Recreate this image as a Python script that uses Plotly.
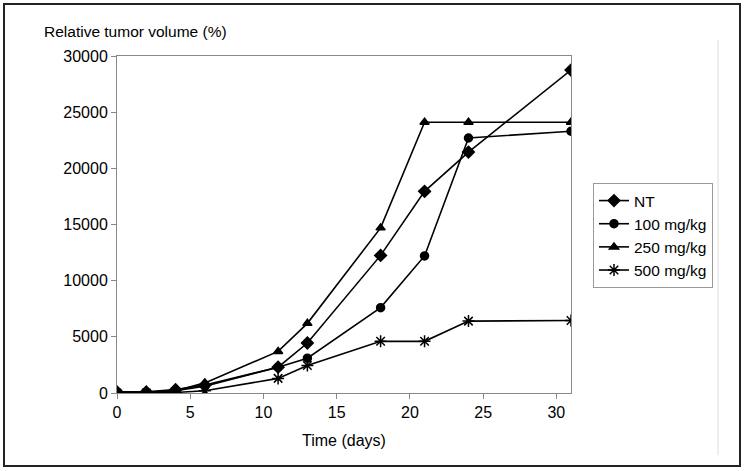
import plotly.graph_objects as go

days = [0, 2, 4, 6, 11, 13, 18, 21, 24, 31]
nt = [100, 100, 300, 700, 2300, 4450, 12250, 17950, 21450, 28750]
mg100 = [0, 50, 200, 600, 2300, 3100, 7600, 12200, 22700, 23300]
mg250 = [0, 50, 200, 900, 3700, 6200, 14700, 24100, 24100, 24100]
mg500 = [0, 0, 50, 200, 1300, 2450, 4600, 4600, 6400, 6450]

x_ticks = [0, 5, 10, 15, 20, 25, 30]
y_ticks = [0, 5000, 10000, 15000, 20000, 25000, 30000]
y_ticktext = ["0", "5000", "10000", "15000", "20000", "25000", "30000"]

series = [
    ("NT", nt, "diamond", 9),
    ("100 mg/kg", mg100, "circle", 8),
    ("250 mg/kg", mg250, "triangle-up", 8),
    ("500 mg/kg", mg500, "asterisk-open", 10),
]

FONT = "Liberation Sans, Arial, sans-serif"
fig = go.Figure()
for name, vals, sym, sz in series:
    fig.add_trace(go.Scatter(
        x=days, y=vals, name=name, mode="lines+markers",
        line=dict(color="black", width=1.6),
        marker=dict(symbol=sym, size=sz, color="black",
                    line=dict(color="black", width=1.5)),
    ))

W, H = 744, 471
L, R, T, B = 117, 571, 56, 393
pw, ph = R - L, B - T

def px(x):
    return (x - L) / pw

def py(y):
    return (B - y) / ph

fig.update_layout(
    width=W, height=H,
    margin=dict(l=L, r=W - R, t=T, b=H - B),
    paper_bgcolor="white", plot_bgcolor="white",
    font=dict(family=FONT, size=16, color="black"),
    showlegend=True,
    legend=dict(x=px(593), y=py(183), xanchor="left", yanchor="top",
                bordercolor="#999999", borderwidth=1, bgcolor="white",
                font=dict(size=15.5), tracegroupgap=0, itemwidth=30),
    xaxis=dict(range=[0, 31], tickvals=x_ticks,
               showgrid=False, zeroline=False, showline=True,
               linecolor="#888888", linewidth=1, mirror=True,
               ticks="outside", ticklen=5, tickcolor="#888888",
               tickfont=dict(size=16)),
    yaxis=dict(range=[0, 30000], tickvals=y_ticks, ticktext=y_ticktext,
               showgrid=False, zeroline=False, showline=True,
               linecolor="#888888", linewidth=1, mirror=True,
               ticks="outside", ticklen=5, tickcolor="#888888",
               tickfont=dict(size=16)),
    annotations=[
        dict(text="Relative tumor volume (%)", xref="paper", yref="paper",
             x=px(42), y=py(32), xanchor="left", yanchor="middle",
             showarrow=False, font=dict(size=15.5)),
        dict(text="Time (days)", xref="paper", yref="paper",
             x=px(344), y=py(440), xanchor="center", yanchor="middle",
             showarrow=False, font=dict(size=16)),
    ],
    shapes=[
        dict(type="rect", xref="paper", yref="paper",
             x0=px(4), x1=px(740), y0=py(466), y1=py(4),
             line=dict(color="#222222", width=2)),
        dict(type="line", xref="paper", yref="paper",
             x0=px(718), x1=px(718), y0=py(455), y1=py(40),
             line=dict(color="#dddddd", width=1)),
    ],
)

fig.write_html("out.html", config={"displayModeBar": False},
               post_script="document.body.style.margin='0';document.body.style.overflow='hidden';")
